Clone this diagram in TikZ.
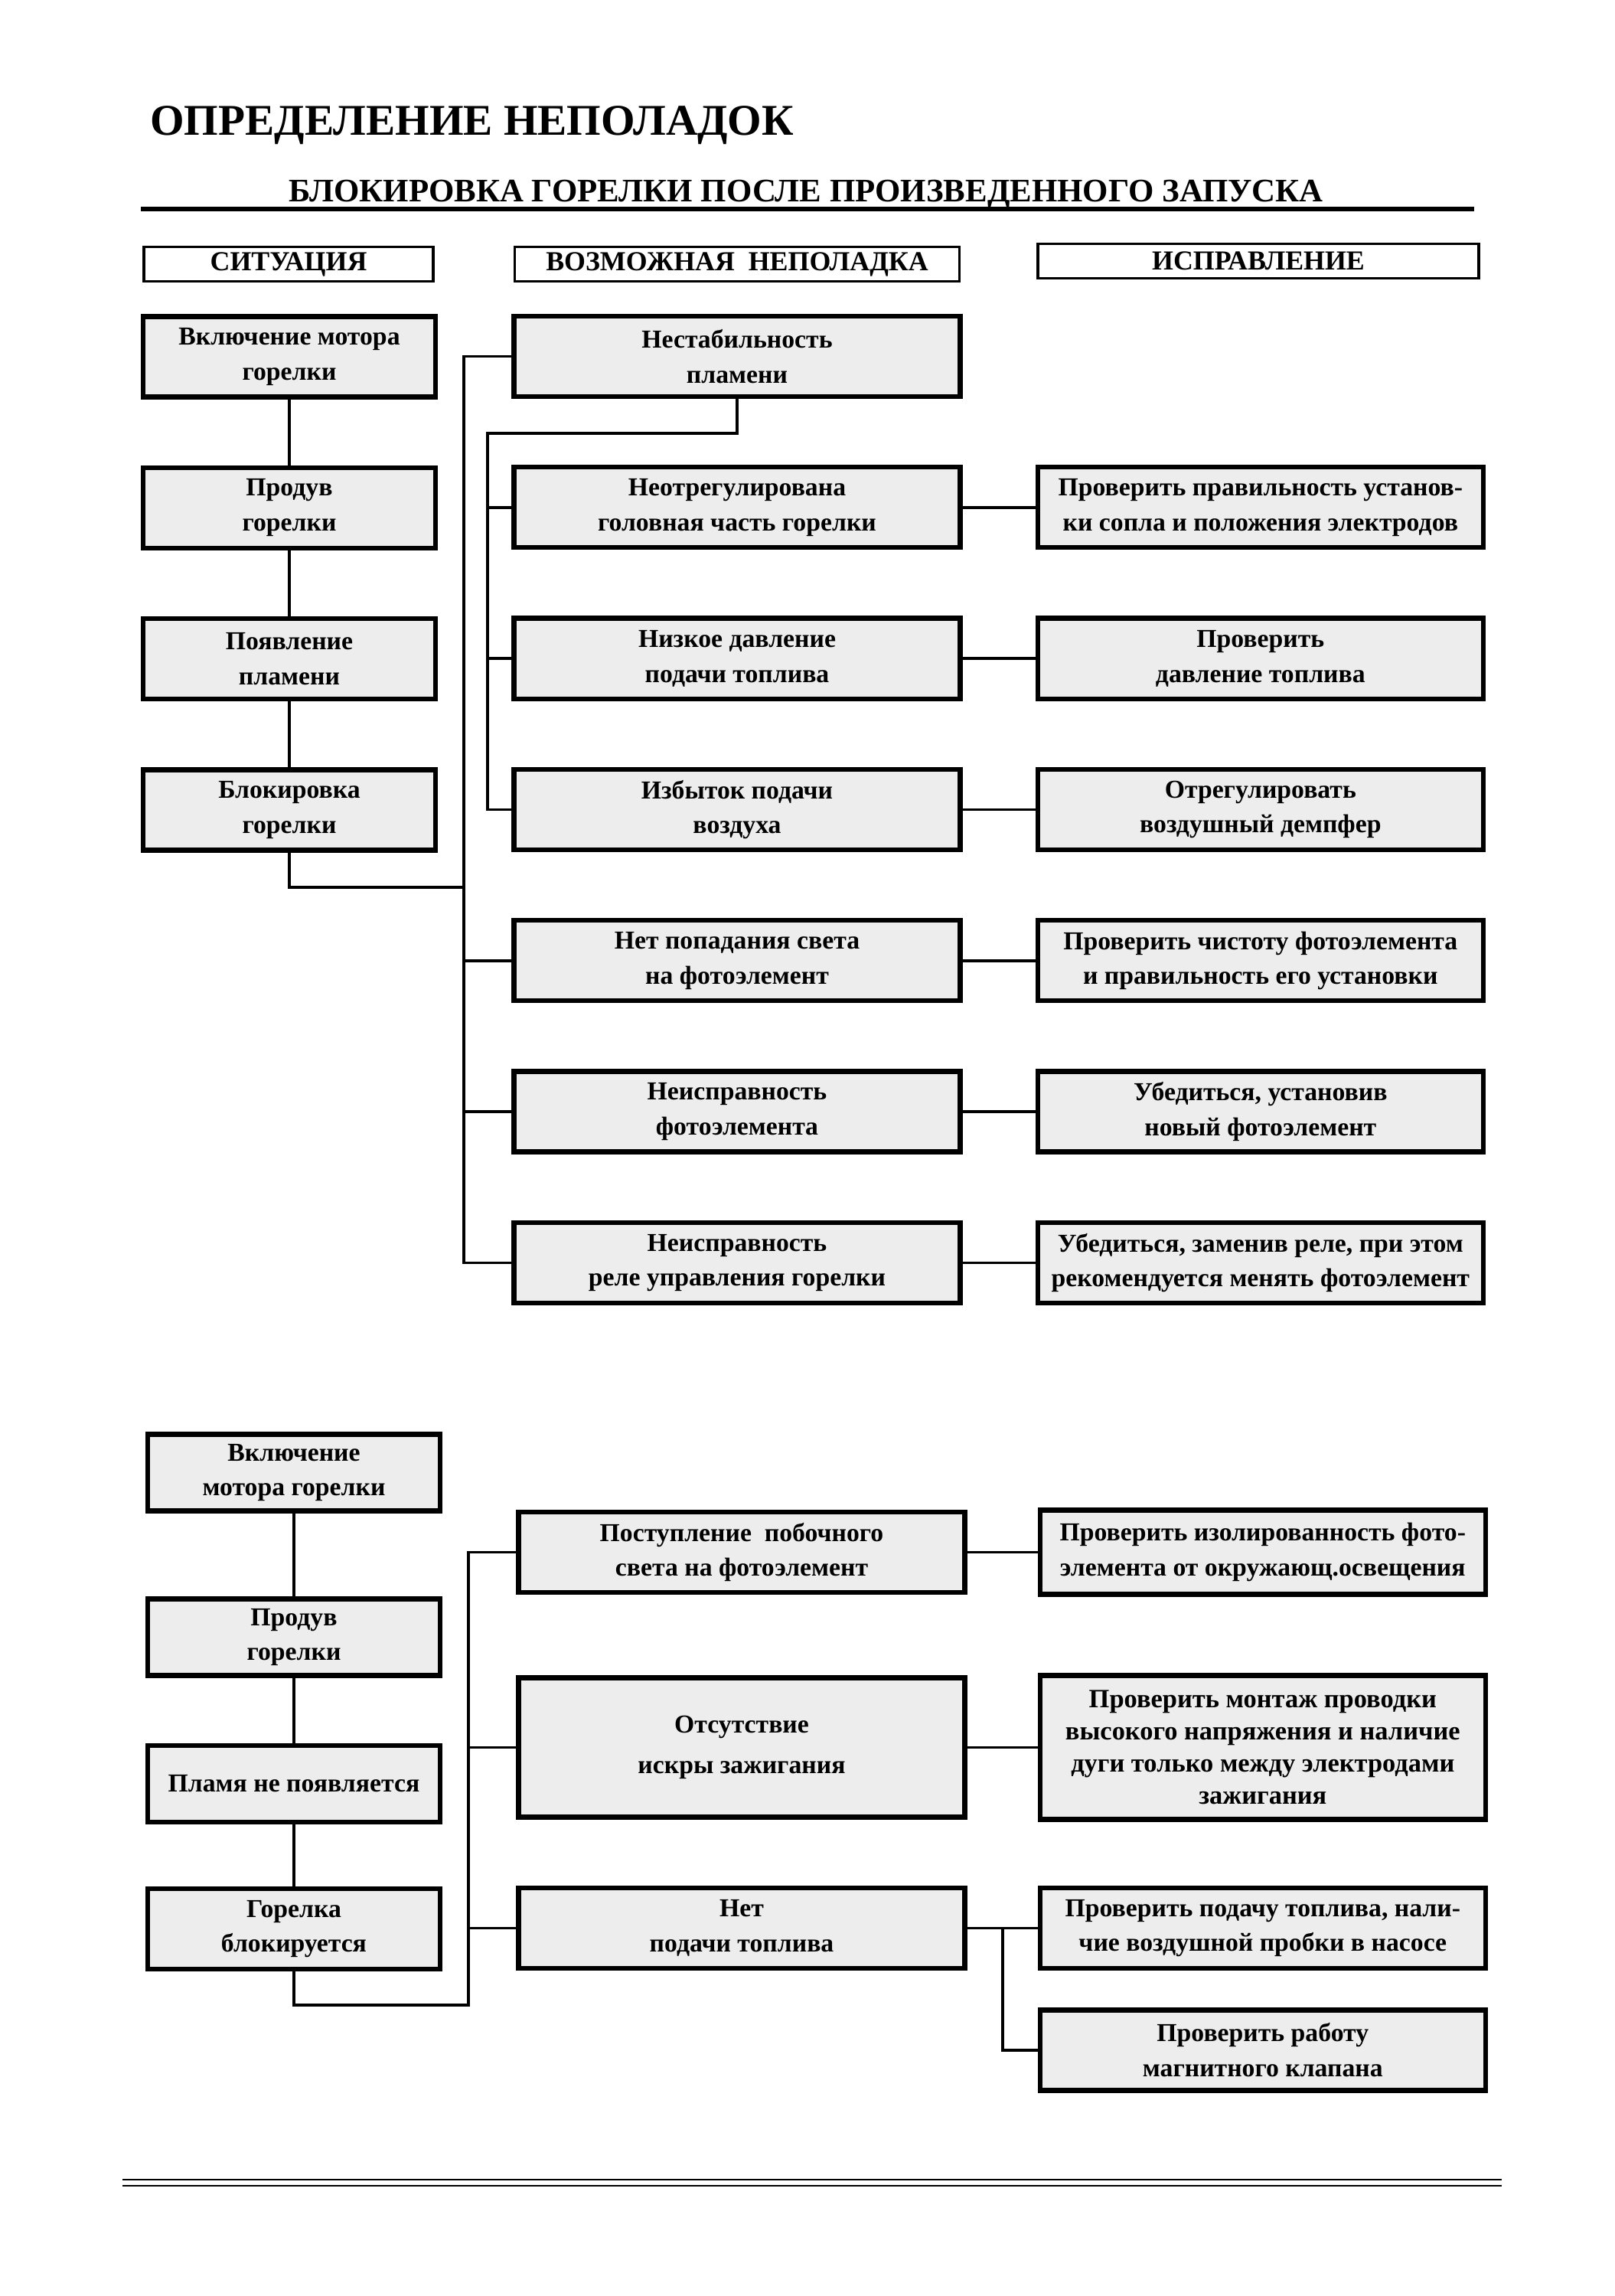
\documentclass[tikz,border=0pt]{standalone}
\usepackage{fontspec}
\setmainfont{Liberation Serif}
\usetikzlibrary{positioning,calc}
\tikzset{
  blk/.style={draw, line width=1.8pt, fill=black!7, minimum height=1.05cm,
              align=center, inner sep=2pt, font=\bfseries\fontsize{9.6}{13}\selectfont},
  sit/.style={blk, minimum width=3.82cm},
  flt/.style={blk, minimum width=5.83cm},
  fix/.style={blk, minimum width=5.82cm},
  hdr/.style={draw, line width=0.9pt, minimum height=0.45cm, inner sep=1pt,
              font=\bfseries\fontsize{10.2}{12}\selectfont},
  wire/.style={line width=1.1pt}
}

\begin{document}
\begin{tikzpicture}[node distance=0.86cm]
  \useasboundingbox (0,0) rectangle (21.1,-29.99);

  \node[anchor=base west, font=\bfseries\fontsize{16.3}{20}\selectfont] (title) at (1.84,-1.76) {ОПРЕДЕЛЕНИЕ НЕПОЛАДОК};
  \node[anchor=base, font=\bfseries\fontsize{12.2}{15}\selectfont] (sub) at (10.53,-2.63) {БЛОКИРОВКА ГОРЕЛКИ ПОСЛЕ ПРОИЗВЕДЕННОГО ЗАПУСКА};
  \coordinate (ul1) at (1.84,-2.73);
  \coordinate (ul2) at (19.26,-2.73);
  \draw[line width=1.6pt] (ul1) -- (ul2);

  % column headers
  \node[hdr, minimum width=3.78cm] (hs) at (3.77,-3.45) {СИТУАЦИЯ};
  \node[hdr, minimum width=5.81cm] (hp) at (9.63,-3.45) {ВОЗМОЖНАЯ\ \ НЕПОЛАДКА};
  \node[hdr, minimum width=5.76cm] (hr) at (16.44,-3.41) {ИСПРАВЛЕНИЕ};

  % upper chart: situation
  \node[sit] (s1) at (3.78,-4.66) {Включение мотора\\горелки};
  \node[sit, below=of s1] (s2) {Продув\\горелки};
  \node[sit, below=of s2] (s3) {Появление\\пламени};
  \node[sit, below=of s3] (s4) {Блокировка\\горелки};

  % upper chart: faults
  \node[flt] (p1) at (9.63,-4.655) {Нестабильность\\пламени};
  \node[flt, below=of p1] (p2) {Неотрегулирована\\головная часть горелки};
  \node[flt, below=of p2] (p3) {Низкое давление\\подачи топлива};
  \node[flt, below=of p3] (p4) {Избыток подачи\\воздуха};
  \node[flt, below=of p4] (p5) {Нет попадания света\\на фотоэлемент};
  \node[flt, below=of p5] (p6) {Неисправность\\фотоэлемента};
  \node[flt, below=of p6] (p7) {Неисправность\\реле управления горелки};

  % upper chart: remedies
  \node[fix, right=0.95cm of p2] (r2) {Проверить правильность установ-\\ки сопла и положения электродов};
  \node[fix, right=0.95cm of p3] (r3) {Проверить\\давление топлива};
  \node[fix, right=0.95cm of p4] (r4) {Отрегулировать\\воздушный демпфер};
  \node[fix, right=0.95cm of p5] (r5) {Проверить чистоту фотоэлемента\\и правильность его установки};
  \node[fix, right=0.95cm of p6] (r6) {Убедиться, установив\\новый фотоэлемент};
  \node[fix, right=0.95cm of p7] (r7) {Убедиться, заменив реле, при этом\\рекомендуется менять фотоэлемент};

  \draw[wire] (s1) -- (s2);
  \draw[wire] (s2) -- (s3);
  \draw[wire] (s3) -- (s4);

  \coordinate (m1) at (6.06,-4.655);
  \coordinate (m2) at (6.06,-11.59);
  \draw[wire] (p1.west) -- (m1) |- (p7.west);
  \draw[wire] (m1 |- p5.west) -- (p5.west);
  \draw[wire] (m1 |- p6.west) -- (p6.west);
  \draw[wire] (s4.south) |- (m2);

  \coordinate (j1) at (6.37,-5.66);
  \draw[wire] (p1.south) |- (j1) |- (p4.west);
  \draw[wire] (j1 |- p2.west) -- (p2.west);
  \draw[wire] (j1 |- p3.west) -- (p3.west);

  \foreach \i in {2,...,7}
    \draw[wire] (p\i) -- (r\i);

  % lower chart
  \node[sit, minimum height=1.0cm] (b1) at (3.84,-19.235) {Включение\\мотора горелки};
  \node[sit, minimum height=1.0cm] (b2) at (3.84,-21.385) {Продув\\горелки};
  \node[sit, minimum height=1.0cm] (b3) at (3.84,-23.30) {Пламя не появляется};
  \node[sit] (b4) at (3.84,-25.195) {Горелка\\блокируется};

  \node[flt] (q1) at (9.69,-20.275) {Поступление\ \ побочного\\света на фотоэлемент};
  \node[flt, minimum height=1.82cm, font=\bfseries\fontsize{9.6}{15}\selectfont] (q2) at (9.69,-22.825) {Отсутствие\\искры зажигания};
  \node[flt] (q3) at (9.69,-25.185) {Нет\\подачи топлива};

  \node[fix, right=0.92cm of q1, minimum height=1.1cm] (t1) {Проверить изолированность фото-\\элемента от окружающ.освещения};
  \node[fix, right=0.92cm of q2, minimum height=1.88cm, font=\bfseries\fontsize{9.8}{12}\selectfont] (t2) {Проверить монтаж проводки\\высокого напряжения и наличие\\дуги только между электродами\\зажигания};
  \node[fix, right=0.92cm of q3] (t3) {Проверить подачу топлива, нали-\\чие воздушной пробки в насосе};
  \node[fix, below=0.48cm of t3] (t4) {Проверить работу\\магнитного клапана};

  \draw[wire] (b1) -- (b2);
  \draw[wire] (b2) -- (b3);
  \draw[wire] (b3) -- (b4);

  \coordinate (k2) at (6.12,-26.19);
  \draw[wire] (b4.south) |- (k2) |- (q1.west);
  \draw[wire] (k2 |- q2.west) -- (q2.west);
  \draw[wire] (k2 |- q3.west) -- (q3.west);

  \draw[wire] (q1) -- (t1);
  \draw[wire] (q2) -- (t2);
  \draw[wire] (q3) -- (t3);
  \coordinate (k3) at ($(q3.east)!0.5!(t3.west)$);
  \draw[wire] (k3) |- (t4.west);

  % footer rule
  \coordinate (f1) at (1.60,-28.47);
  \coordinate (f2) at (19.62,-28.47);
  \coordinate (f3) at (1.60,-28.55);
  \coordinate (f4) at (19.62,-28.55);
  \draw[line width=0.7pt] (f1) -- (f2);
  \draw[line width=0.7pt] (f3) -- (f4);
\end{tikzpicture}
\end{document}
